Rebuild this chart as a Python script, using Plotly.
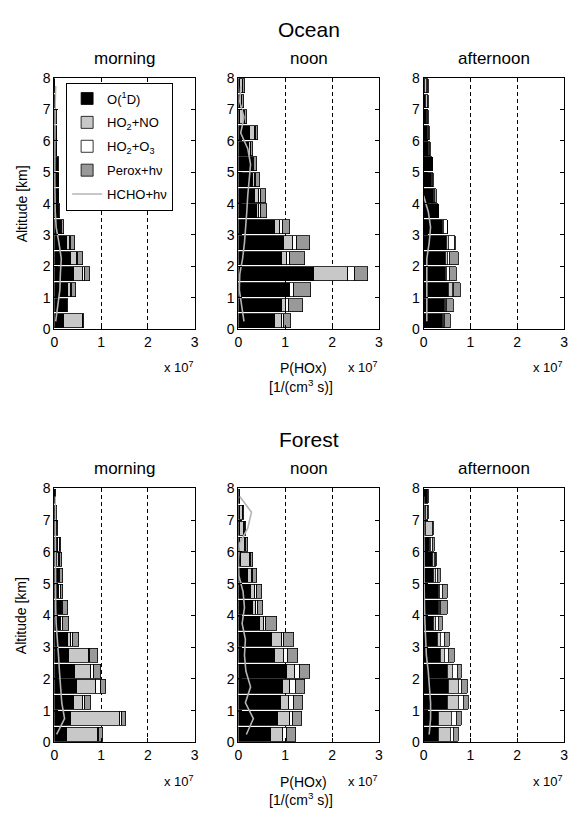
import plotly.graph_objects as go

# ---------------- data (units of 1e7 molecules cm^-3 s^-1) ----------------
altitude = [0.25, 0.75, 1.25, 1.75, 2.25, 2.75, 3.25, 3.75,
            4.25, 4.75, 5.25, 5.75, 6.25, 6.75, 7.25, 7.75]

sites = ["Ocean", "Forest"]
times = ["morning", "noon", "afternoon"]
series_names = ["O(<sup>1</sup>D)", "HO<sub>2</sub>+NO", "HO<sub>2</sub>+O<sub>3</sub>", "Perox+h\u03bd"]
hcho_name = "HCHO+h\u03bd"

# Ocean morning
ocean_morning_o1d   = [0.21, 0.26, 0.30, 0.42, 0.37, 0.28, 0.12, 0.08, 0.08, 0.08, 0.07, 0.06, 0.05, 0.05, 0.03, 0.02]
ocean_morning_no    = [0.40, 0.02, 0.07, 0.20, 0.12, 0.06, 0.03, 0.01, 0.01, 0.01, 0.01, 0.00, 0.01, 0.00, 0.00, 0.00]
ocean_morning_o3    = [0.02, 0.00, 0.02, 0.04, 0.03, 0.03, 0.02, 0.01, 0.01, 0.01, 0.01, 0.00, 0.00, 0.00, 0.00, 0.00]
ocean_morning_perox = [0.02, 0.01, 0.07, 0.10, 0.09, 0.07, 0.04, 0.02, 0.01, 0.01, 0.01, 0.01, 0.00, 0.01, 0.01, 0.00]
ocean_morning_hcho  = [0.03, 0.08, 0.12, 0.13, 0.15, 0.10, 0.04, 0.02, 0.01, 0.01, 0.01, 0.01, 0.01, 0.01, 0.02, 0.03]

# Ocean noon
ocean_noon_o1d   = [0.80, 0.93, 1.08, 1.63, 0.94, 0.99, 0.79, 0.40, 0.37, 0.33, 0.30, 0.24, 0.26, 0.05, 0.05, 0.05]
ocean_noon_no    = [0.13, 0.09, 0.03, 0.72, 0.10, 0.19, 0.10, 0.04, 0.07, 0.03, 0.03, 0.03, 0.11, 0.07, 0.03, 0.05]
ocean_noon_o3    = [0.06, 0.06, 0.09, 0.15, 0.08, 0.07, 0.06, 0.05, 0.04, 0.03, 0.02, 0.01, 0.01, 0.03, 0.01, 0.01]
ocean_noon_perox = [0.15, 0.31, 0.35, 0.28, 0.32, 0.28, 0.15, 0.12, 0.11, 0.07, 0.05, 0.04, 0.04, 0.04, 0.03, 0.03]
ocean_noon_hcho  = [0.12, 0.07, 0.02, 0.03, 0.09, 0.13, 0.16, 0.18, 0.20, 0.23, 0.26, 0.20, 0.05, 0.12, 0.03, 0.05]

# Ocean afternoon
ocean_afternoon_o1d   = [0.40, 0.44, 0.54, 0.47, 0.47, 0.49, 0.40, 0.31, 0.22, 0.17, 0.19, 0.10, 0.08, 0.07, 0.05, 0.03]
ocean_afternoon_no    = [0.03, 0.02, 0.07, 0.03, 0.05, 0.05, 0.02, 0.00, 0.01, 0.02, 0.00, 0.01, 0.01, 0.01, 0.03, 0.04]
ocean_afternoon_o3    = [0.02, 0.04, 0.02, 0.05, 0.04, 0.12, 0.10, 0.00, 0.01, 0.01, 0.00, 0.01, 0.01, 0.01, 0.01, 0.01]
ocean_afternoon_perox = [0.13, 0.15, 0.16, 0.15, 0.19, 0.02, 0.00, 0.00, 0.03, 0.02, 0.01, 0.02, 0.02, 0.01, 0.01, 0.02]
ocean_afternoon_hcho  = [0.07, 0.07, 0.07, 0.08, 0.07, 0.12, 0.15, 0.10, 0.00, None, None, None, None, None, None, None]

# Forest morning
forest_morning_o1d   = [0.28, 0.37, 0.43, 0.50, 0.44, 0.32, 0.29, 0.12, 0.14, 0.09, 0.08, 0.07, 0.06, 0.04, 0.03, 0.02]
forest_morning_no    = [0.65, 1.05, 0.18, 0.39, 0.35, 0.42, 0.08, 0.04, 0.03, 0.02, 0.02, 0.03, 0.03, 0.02, 0.01, 0.01]
forest_morning_o3    = [0.03, 0.04, 0.05, 0.11, 0.07, 0.04, 0.04, 0.04, 0.03, 0.03, 0.03, 0.03, 0.03, 0.01, 0.01, 0.00]
forest_morning_perox = [0.08, 0.09, 0.13, 0.12, 0.15, 0.15, 0.12, 0.11, 0.09, 0.05, 0.06, 0.05, 0.04, 0.02, 0.01, 0.01]
forest_morning_hcho  = [0.05, 0.22, 0.16, 0.13, 0.11, 0.09, 0.06, 0.04, 0.03, 0.03, 0.03, 0.03, 0.02, 0.02, 0.02, 0.02]

# Forest noon
forest_noon_o1d   = [0.70, 0.85, 0.92, 0.95, 1.04, 0.80, 0.73, 0.46, 0.33, 0.28, 0.21, 0.07, 0.05, 0.05, 0.05, 0.04]
forest_noon_no    = [0.26, 0.27, 0.16, 0.16, 0.17, 0.19, 0.20, 0.10, 0.05, 0.09, 0.09, 0.19, 0.10, 0.07, 0.05, 0.01]
forest_noon_o3    = [0.08, 0.06, 0.12, 0.12, 0.11, 0.08, 0.06, 0.04, 0.04, 0.04, 0.02, 0.01, 0.02, 0.02, 0.01, 0.00]
forest_noon_perox = [0.19, 0.19, 0.19, 0.21, 0.22, 0.21, 0.21, 0.24, 0.12, 0.11, 0.08, 0.04, 0.04, 0.03, 0.01, 0.00]
forest_noon_hcho  = [0.17, 0.32, 0.15, 0.26, 0.16, 0.13, 0.15, 0.08, 0.13, 0.10, 0.01, 0.00, 0.02, 0.20, 0.28, 0.03]

# Forest afternoon
forest_afternoon_o1d   = [0.33, 0.33, 0.52, 0.54, 0.51, 0.37, 0.30, 0.21, 0.33, 0.31, 0.21, 0.20, 0.12, 0.05, 0.05, 0.08]
forest_afternoon_no    = [0.25, 0.27, 0.23, 0.21, 0.10, 0.08, 0.06, 0.05, 0.02, 0.04, 0.05, 0.03, 0.03, 0.14, 0.03, 0.01]
forest_afternoon_o3    = [0.07, 0.10, 0.10, 0.07, 0.11, 0.09, 0.08, 0.06, 0.02, 0.05, 0.04, 0.02, 0.04, 0.01, 0.01, 0.00]
forest_afternoon_perox = [0.09, 0.12, 0.11, 0.11, 0.09, 0.12, 0.12, 0.08, 0.14, 0.11, 0.07, 0.03, 0.05, 0.01, 0.01, 0.01]
forest_afternoon_hcho  = [0.12, 0.15, 0.15, 0.13, 0.10, 0.06, 0.04, 0.03, 0.02, 0.01, 0.01, 0.01, 0.01, 0.01, 0.01, 0.00]

x_ticks = [0, 1, 2, 3]
y_ticks = [0, 1, 2, 3, 4, 5, 6, 7, 8]

panels = [
    (ocean_morning_o1d, ocean_morning_no, ocean_morning_o3, ocean_morning_perox, ocean_morning_hcho),
    (ocean_noon_o1d, ocean_noon_no, ocean_noon_o3, ocean_noon_perox, ocean_noon_hcho),
    (ocean_afternoon_o1d, ocean_afternoon_no, ocean_afternoon_o3, ocean_afternoon_perox, ocean_afternoon_hcho),
    (forest_morning_o1d, forest_morning_no, forest_morning_o3, forest_morning_perox, forest_morning_hcho),
    (forest_noon_o1d, forest_noon_no, forest_noon_o3, forest_noon_perox, forest_noon_hcho),
    (forest_afternoon_o1d, forest_afternoon_no, forest_afternoon_o3, forest_afternoon_perox, forest_afternoon_hcho),
]

# ---------------- styling / layout ----------------
W, H = 572, 822
FONT = "Liberation Sans, Arial, Helvetica, sans-serif"
bar_colors = ["#000000", "#c8c8c8", "#ffffff", "#999999"]
hcho_color = "#b4b4b4"

col_px = [(51.0, 193.3), (237.7, 380.3), (425.5, 568.0)]
row_px = [(71.5, 327.5), (490.0, 749.0)]   # top, bottom in pixels

fig = go.Figure()

for p, (o1d, no, o3, perox, hcho) in enumerate(panels):
    ax = "" if p == 0 else str(p + 1)
    for k, vals in enumerate([o1d, no, o3, perox]):
        fig.add_trace(go.Bar(
            y=altitude, x=vals, orientation="h", width=0.44,
            marker=dict(color=bar_colors[k], line=dict(color="black", width=0.8)),
            name=series_names[k], legendgroup=f"g{k}", showlegend=(p == 0),
            xaxis="x" + ax, yaxis="y" + ax,
        ))
    fig.add_trace(go.Scatter(
        x=hcho, y=altitude, mode="lines",
        line=dict(color=hcho_color, width=1.6),
        name=hcho_name, legendgroup="g4", showlegend=(p == 0),
        xaxis="x" + ax, yaxis="y" + ax,
    ))

layout = dict(
    width=W, height=H, margin=dict(l=0, r=0, t=0, b=0),
    paper_bgcolor="white", plot_bgcolor="white",
    barmode="stack", bargap=0,
    font=dict(family=FONT, size=14, color="black"),
    showlegend=True,
    legend=dict(x=63 / W, y=1 - 76 / H, xanchor="left", yanchor="top",
                bgcolor="white", bordercolor="black", borderwidth=1,
                font=dict(size=13, family=FONT), traceorder="grouped",
                tracegroupgap=4, itemwidth=30),
)

annotations = []
for p in range(6):
    r, c = divmod(p, 3)
    ax = "" if p == 0 else str(p + 1)
    x0, x1 = col_px[c]
    top, bot = row_px[r]
    layout["xaxis" + ax] = dict(
        domain=[x0 / W, x1 / W], range=[0, 3], anchor="y" + ax,
        tickvals=x_ticks, ticks="inside", ticklen=4, tickcolor="black",
        showline=True, linecolor="black", linewidth=1, mirror="ticks",
        showgrid=True, gridcolor="black", griddash="4px,3px", gridwidth=1,
        zeroline=False, tickfont=dict(size=14), fixedrange=True,
    )
    layout["yaxis" + ax] = dict(
        domain=[1 - bot / H, 1 - top / H], range=[0, 8], anchor="x" + ax,
        tickvals=y_ticks, ticks="inside", ticklen=4, tickcolor="black",
        showline=True, linecolor="black", linewidth=1, mirror="ticks",
        showgrid=False, zeroline=False, tickfont=dict(size=14), fixedrange=True,
    )
    # panel title
    annotations.append(dict(text=times[c], x=(x0 + x1) / 2 / W, y=1 - (top - 20) / H,
                            xref="paper", yref="paper", showarrow=False,
                            font=dict(size=17), xanchor="center", yanchor="middle"))
    # exponent label
    annotations.append(dict(text="x 10<sup>7</sup>", x=(x1 + 1) / W, y=1 - (bot + 39) / H,
                            xref="paper", yref="paper", showarrow=False,
                            font=dict(size=13), xanchor="right", yanchor="middle"))
    if c == 1:
        annotations.append(dict(text=sites[r], x=(x0 + x1) / 2 / W, y=1 - (top - 50) / H,
                                xref="paper", yref="paper", showarrow=False,
                                font=dict(size=21), xanchor="center", yanchor="middle"))
        annotations.append(dict(text="P(HOx)", x=(x0 + 66) / W, y=1 - (bot + 40) / H,
                                xref="paper", yref="paper", showarrow=False,
                                font=dict(size=14), xanchor="center", yanchor="middle"))
        annotations.append(dict(text="[1/(cm<sup>3</sup> s)]", x=(x0 + 64) / W, y=1 - (bot + 58) / H,
                                xref="paper", yref="paper", showarrow=False,
                                font=dict(size=14), xanchor="center", yanchor="middle"))
    if c == 0:
        annotations.append(dict(text="Altitude [km]", x=18 / W, y=1 - (top + bot) / 2 / H,
                                xref="paper", yref="paper", showarrow=False, textangle=-90,
                                font=dict(size=14), xanchor="center", yanchor="middle"))

layout["annotations"] = annotations
fig.update_layout(**layout)

fig.write_html("out.html")
